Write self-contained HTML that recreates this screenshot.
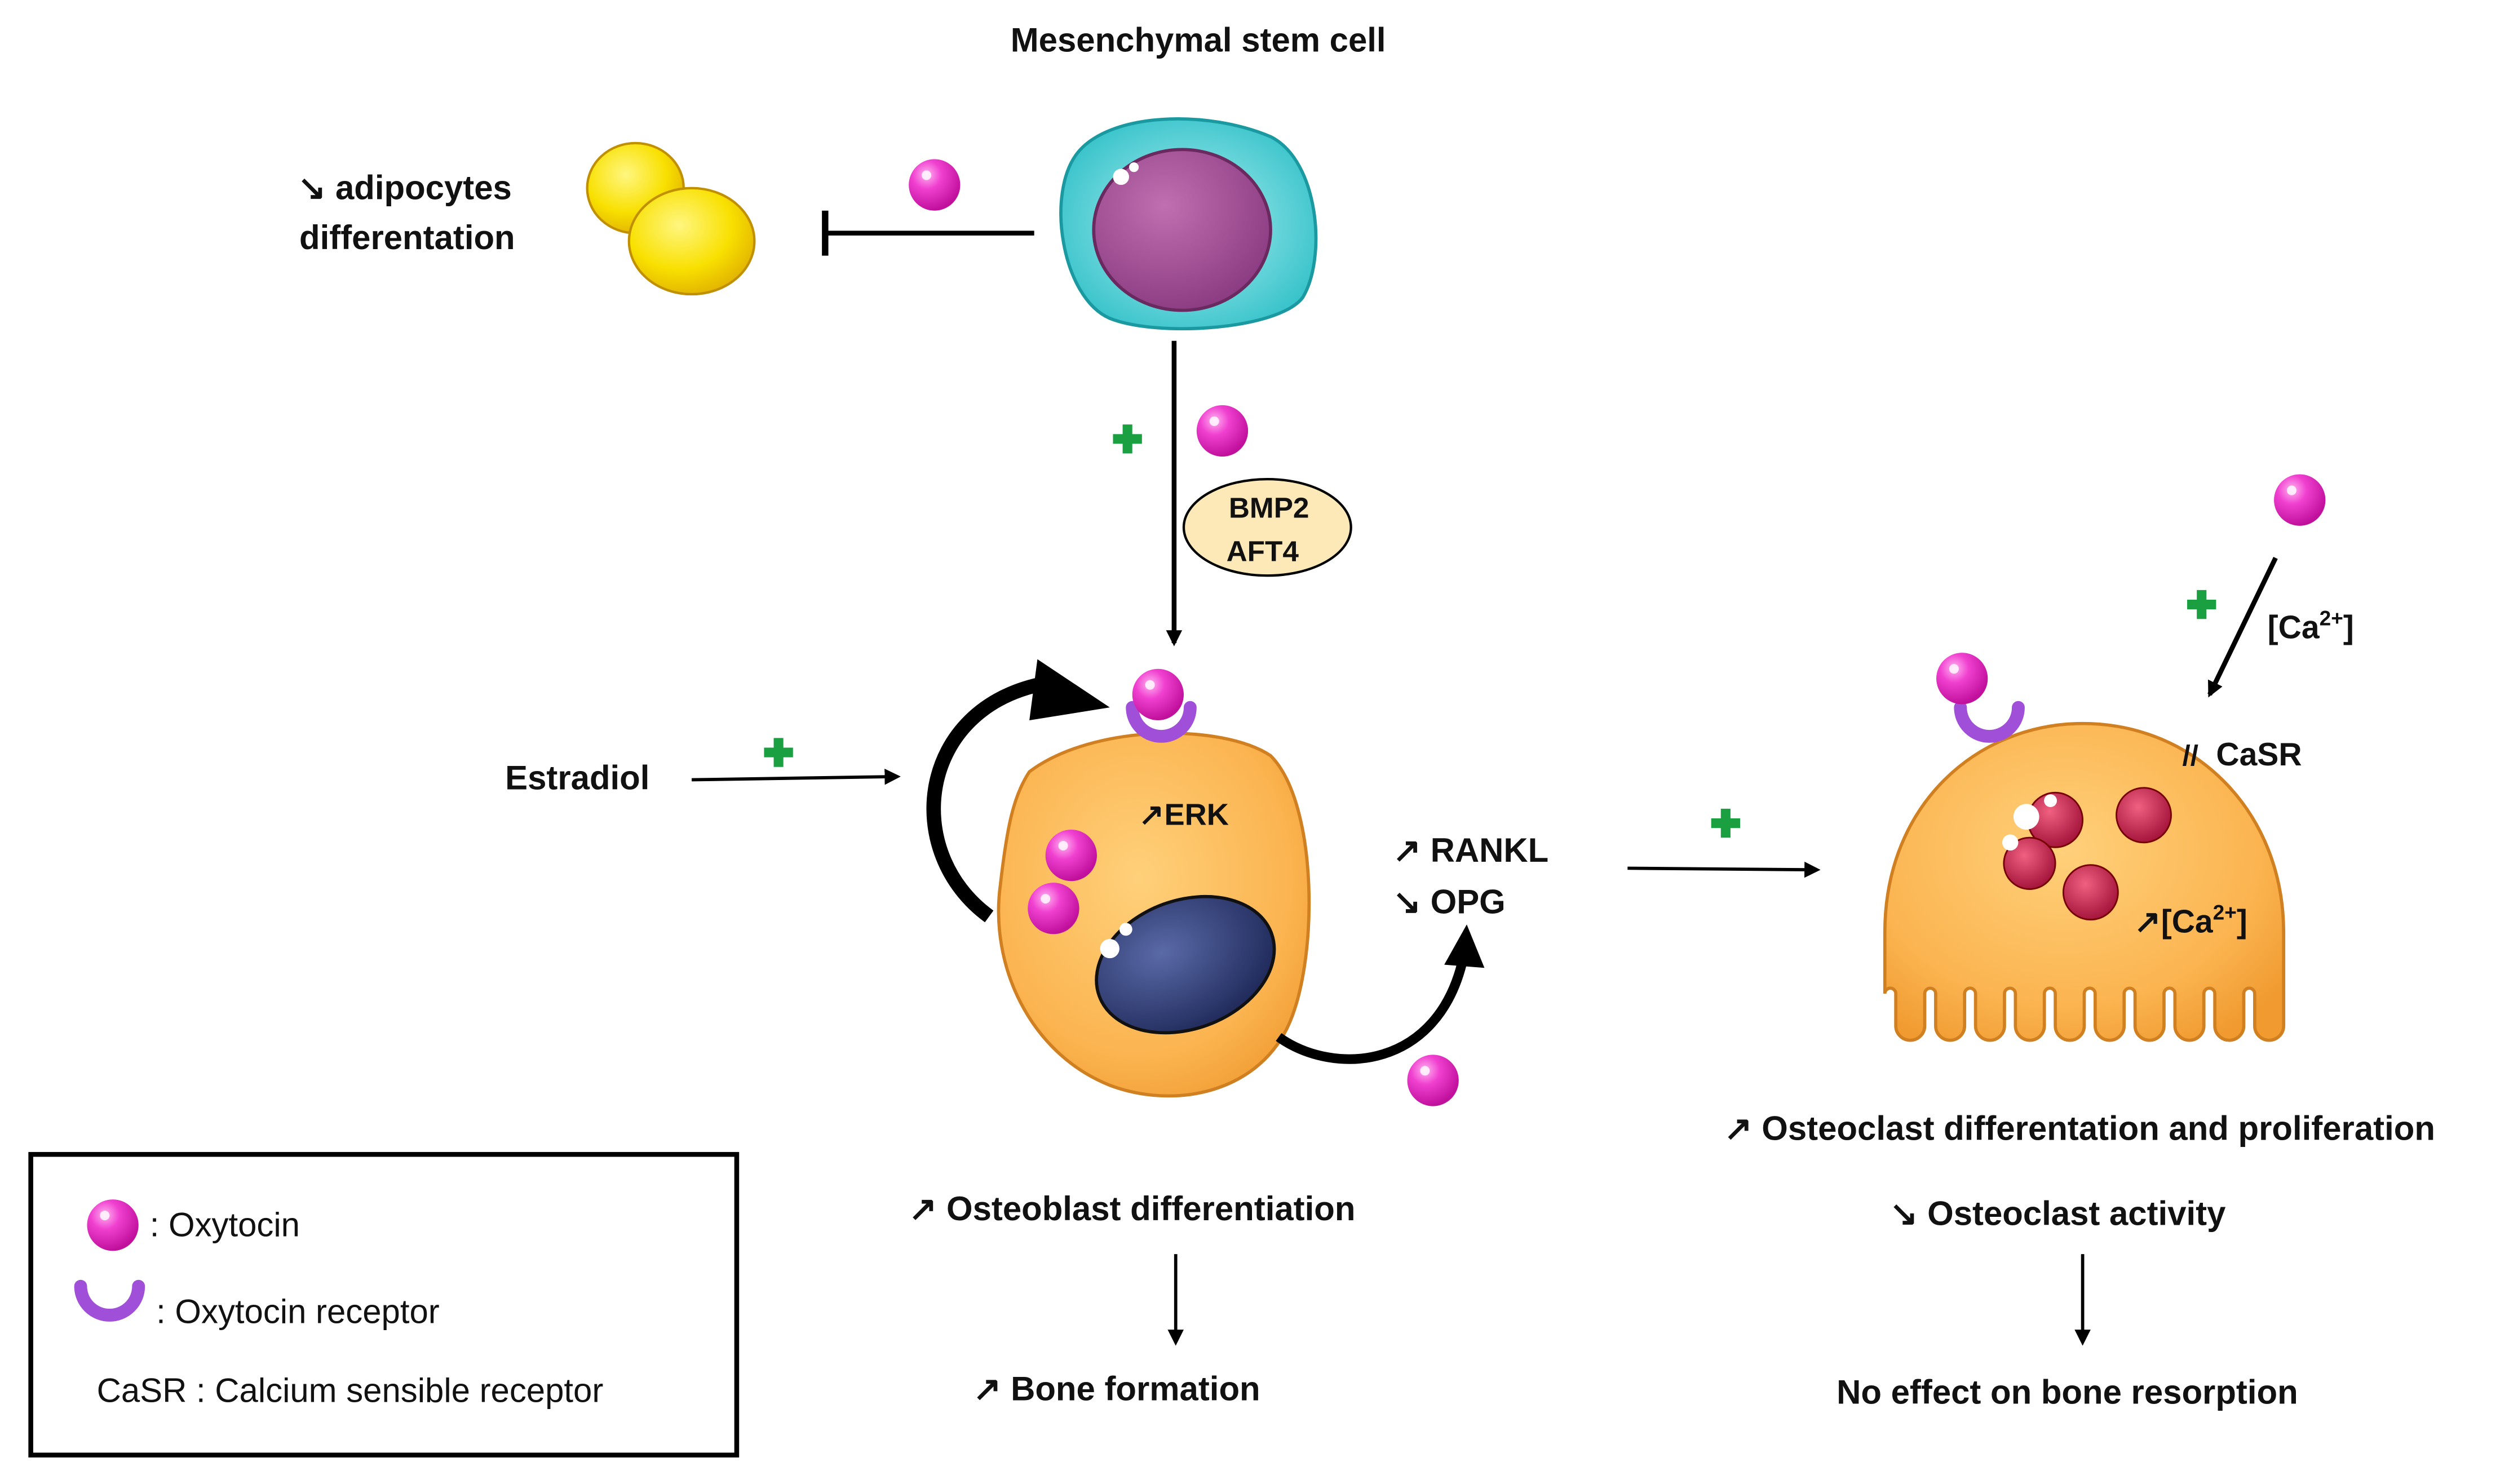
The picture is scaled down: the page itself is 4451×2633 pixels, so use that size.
<!DOCTYPE html>
<html><head><meta charset="utf-8"><style>
html,body{margin:0;padding:0;background:#fff;}
svg{display:block;}
text{font-family:"Liberation Sans",sans-serif;fill:#111;}
.b{font-weight:bold;font-size:21px;}
.n{font-size:21px;}
</style></head><body>
<svg width="4451" height="2633" viewBox="0 0 1560 923" xmlns="http://www.w3.org/2000/svg">
<defs>
<radialGradient id="pk" cx="0.35" cy="0.3" r="0.7"><stop offset="0" stop-color="#ffb3f0"/><stop offset="0.4" stop-color="#f040d0"/><stop offset="1" stop-color="#c0109c"/></radialGradient>
<radialGradient id="ye" cx="0.4" cy="0.35" r="0.7"><stop offset="0" stop-color="#fff680"/><stop offset="0.6" stop-color="#f8e000"/><stop offset="1" stop-color="#e0b000"/></radialGradient>
<radialGradient id="or" cx="0.45" cy="0.4" r="0.7"><stop offset="0" stop-color="#ffd07a"/><stop offset="0.7" stop-color="#fbb450"/><stop offset="1" stop-color="#f09a30"/></radialGradient>
<radialGradient id="tl" cx="0.5" cy="0.5" r="0.6"><stop offset="0" stop-color="#b0f0f0"/><stop offset="1" stop-color="#30c0c8"/></radialGradient>
<radialGradient id="pu" cx="0.4" cy="0.35" r="0.7"><stop offset="0" stop-color="#c070b0"/><stop offset="1" stop-color="#8a3a80"/></radialGradient>
<radialGradient id="nb" cx="0.4" cy="0.35" r="0.7"><stop offset="0" stop-color="#5a6aa8"/><stop offset="1" stop-color="#1e2858"/></radialGradient>
<radialGradient id="rd" cx="0.4" cy="0.35" r="0.7"><stop offset="0" stop-color="#f06080"/><stop offset="1" stop-color="#a01038"/></radialGradient>
<marker id="ar" markerWidth="10" markerHeight="10" refX="8" refY="5" orient="auto" markerUnits="userSpaceOnUse"><path d="M0,0 L10,5 L0,10 z" fill="#000"/></marker>
<g id="sp"><circle r="16" fill="url(#pk)"/><circle cx="-5" cy="-6" r="3" fill="#fff" opacity="0.8"/></g>
<path id="plus" d="M-3,-9 H3 V-3 H9 V3 H3 V9 H-3 V3 H-9 V-3 H-3 Z" fill="#1aa040"/>
<path id="rec" d="M-18,-12 A18,18 0 0 0 18,-12" fill="none" stroke="#a050d8" stroke-width="8" stroke-linecap="round"/>
</defs>

<text x="745" y="32" class="b" text-anchor="middle">Mesenchymal stem cell</text>
<path d="M670,95 C690,70 750,68 790,85 C820,100 825,160 810,185 C795,205 720,210 690,198 C660,185 650,120 670,95 Z" fill="url(#tl)" stroke="#1a9aa0" stroke-width="2"/>
<ellipse cx="735" cy="143" rx="55" ry="50" fill="url(#pu)" stroke="#6a2a60" stroke-width="2"/>
<circle cx="697" cy="110" r="5" fill="#fff"/><circle cx="705" cy="104" r="3" fill="#fff"/>
<use href="#sp" x="581" y="115"/>
<line x1="643" y1="145" x2="513" y2="145" stroke="#000" stroke-width="3"/>
<line x1="513" y1="131" x2="513" y2="159" stroke="#000" stroke-width="4"/>
<ellipse cx="395" cy="117" rx="30" ry="28" fill="url(#ye)" stroke="#c09000" stroke-width="1.5"/>
<ellipse cx="430" cy="150" rx="39" ry="33" fill="url(#ye)" stroke="#c09000" stroke-width="1.5"/>
<text x="185" y="124" class="b">↘ adipocytes</text>
<text x="186" y="155" class="b">differentation</text>

<line x1="730" y1="212" x2="730" y2="400" stroke="#000" stroke-width="3" marker-end="url(#ar)"/>
<use href="#plus" x="701" y="273"/>
<use href="#sp" x="760" y="268"/>
<ellipse cx="788" cy="328" rx="52" ry="30" fill="#fde8b8" stroke="#000" stroke-width="1.5"/>
<text x="789" y="322" class="b" text-anchor="middle" style="font-size:18px">BMP2</text>
<text x="785" y="349" class="b" text-anchor="middle" style="font-size:18px">AFT4</text>

<path d="M640,480 C680,450 760,450 790,470 C820,500 820,600 800,640 C780,680 730,690 690,675 C640,655 615,600 622,550 C626,515 630,495 640,480 Z" fill="url(#or)" stroke="#d08020" stroke-width="2"/>
<ellipse cx="737" cy="600" rx="57" ry="40" transform="rotate(-20 737 600)" fill="url(#nb)" stroke="#111" stroke-width="2"/>
<circle cx="690" cy="590" r="6" fill="#fff"/><circle cx="700" cy="578" r="4" fill="#fff"/>
<use href="#rec" x="722" y="452"/>
<use href="#sp" x="720" y="432"/>
<text x="708" y="513" class="b" style="font-size:19px">↗ERK</text>
<use href="#sp" x="666" y="532"/>
<use href="#sp" x="655" y="565"/>
<use href="#sp" x="891" y="672"/>
<path d="M615,570 C560,530 570,440 650,425" fill="none" stroke="#000" stroke-width="9"/>
<path d="M645,410 L690,440 L640,448 Z" fill="#000"/>
<path d="M795,645 C830,670 895,665 910,595" fill="none" stroke="#000" stroke-width="6"/>
<path d="M898,600 L912,575 L923,602 Z" fill="#000"/>

<text x="314" y="491" class="b">Estradiol</text>
<line x1="430" y1="485" x2="558" y2="483" stroke="#000" stroke-width="2" marker-end="url(#ar)"/>
<use href="#plus" x="484" y="468"/>
<text x="866" y="536" class="b">↗ RANKL</text>
<text x="866" y="568" class="b">↘ OPG</text>
<line x1="1012" y1="540" x2="1130" y2="541" stroke="#000" stroke-width="2" marker-end="url(#ar)"/>
<use href="#plus" x="1073" y="512"/>

<path d="M1172,580 C1172,500 1230,450 1295,450 C1365,450 1420,505 1420,580 L1420,638
A9,9 0 0 1 1402,638 L1402,618 A3.4,3.4 0 0 0 1395.2,618 L1395.2,638
A9,9 0 0 1 1377.2,638 L1377.2,618 A3.4,3.4 0 0 0 1370.4,618 L1370.4,638
A9,9 0 0 1 1352.4,638 L1352.4,618 A3.4,3.4 0 0 0 1345.6,618 L1345.6,638
A9,9 0 0 1 1327.6,638 L1327.6,618 A3.4,3.4 0 0 0 1320.8,618 L1320.8,638
A9,9 0 0 1 1302.8,638 L1302.8,618 A3.4,3.4 0 0 0 1296,618 L1296,638
A9,9 0 0 1 1278,638 L1278,618 A3.4,3.4 0 0 0 1271.2,618 L1271.2,638
A9,9 0 0 1 1253.2,638 L1253.2,618 A3.4,3.4 0 0 0 1246.4,618 L1246.4,638
A9,9 0 0 1 1228.4,638 L1228.4,618 A3.4,3.4 0 0 0 1221.6,618 L1221.6,638
A9,9 0 0 1 1203.6,638 L1203.6,618 A3.4,3.4 0 0 0 1196.8,618 L1196.8,638
A9,9 0 0 1 1178.8,638 L1178.8,618 A3.4,3.4 0 0 0 1172,618 Z" fill="url(#or)" stroke="#d08020" stroke-width="2"/>
<circle cx="1278" cy="510" r="17" fill="url(#rd)" stroke="#700"/><circle cx="1333" cy="507" r="17" fill="url(#rd)" stroke="#700"/>
<circle cx="1262" cy="537" r="16" fill="url(#rd)" stroke="#700"/><circle cx="1300" cy="555" r="17" fill="url(#rd)" stroke="#700"/>
<circle cx="1260" cy="508" r="8" fill="#fff"/><circle cx="1275" cy="498" r="4" fill="#fff"/><circle cx="1250" cy="524" r="5" fill="#fff"/>
<text x="1327" y="580" class="b" style="font-size:20px">↗[Ca<tspan dy="-8" style="font-size:13px">2+</tspan><tspan dy="8">]</tspan></text>
<use href="#rec" x="1237" y="452"/>
<use href="#sp" x="1220" y="422"/>
<text x="1357" y="476" class="b" style="font-size:18px">//</text>
<text x="1378" y="476" class="b" style="font-size:20px">CaSR</text>
<use href="#sp" x="1430" y="311"/>
<line x1="1415" y1="347" x2="1374" y2="432" stroke="#000" stroke-width="3" marker-end="url(#ar)"/>
<use href="#plus" x="1369" y="376"/>
<text x="1410" y="397" class="b" style="font-size:20px">[Ca<tspan dy="-8" style="font-size:13px">2+</tspan><tspan dy="8">]</tspan></text>

<text x="1072" y="709" class="b">↗ Osteoclast differentation and proliferation</text>
<text x="1175" y="762" class="b">↘ Osteoclast activity</text>
<line x1="1295" y1="780" x2="1295" y2="835" stroke="#000" stroke-width="2" marker-end="url(#ar)"/>
<text x="1142" y="873" class="b">No effect on bone resorption</text>
<text x="565" y="759" class="b">↗ Osteoblast differentiation</text>
<line x1="731" y1="780" x2="731" y2="835" stroke="#000" stroke-width="2" marker-end="url(#ar)"/>
<text x="605" y="871" class="b">↗ Bone formation</text>

<rect x="19" y="718" width="439" height="187" fill="none" stroke="#000" stroke-width="3"/>
<use href="#sp" x="70" y="762"/>
<text x="93" y="769" class="n">: Oxytocin</text>
<use href="#rec" x="68" y="812"/>
<text x="97" y="823" class="n">: Oxytocin receptor</text>
<text x="60" y="872" class="n">CaSR : Calcium sensible receptor</text>
</svg>
</body></html>
